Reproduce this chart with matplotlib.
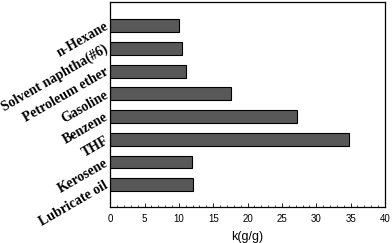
import matplotlib
matplotlib.use("Agg")
import matplotlib.pyplot as plt
from matplotlib.ticker import MultipleLocator

solvents = ["Lubricate oil", "Kerosene", "THF", "Benzene", "Gasoline",
            "Petroleum ether", "Solvent naphtha(#6)", "n-Hexane"]
k_values = [12.1, 11.9, 34.7, 27.15, 17.55, 11.05, 10.5, 10.0]

fig = plt.figure(figsize=(3.92, 2.43), dpi=100)
ax = fig.add_axes([0.281, 0.148, 0.701, 0.844])

ypos = list(range(len(solvents)))
ax.barh(ypos, k_values, height=0.57, color="#585858", edgecolor="black", linewidth=0.8)

ax.set_xlim(0, 40)
ax.set_ylim(-0.98, 8.04)
ax.xaxis.set_major_locator(MultipleLocator(5))
ax.xaxis.set_minor_locator(MultipleLocator(1))
ax.tick_params(axis="x", which="major", direction="in", length=3, width=0.6, labelsize=7, pad=5)
ax.tick_params(axis="x", which="minor", direction="in", length=1.5, width=0.5)
ax.tick_params(axis="y", length=0)
for lbl in ax.get_xticklabels():
    lbl.set_family("Liberation Sans")

ax.set_yticks(ypos)
ax.set_yticklabels(solvents, rotation=30, ha="right", va="center", rotation_mode="anchor",
                   family="Liberation Serif", fontweight="bold", fontsize=10)
ax.tick_params(axis="y", pad=2)

ax.set_xlabel("k(g/g)", fontsize=9, family="Liberation Sans", labelpad=5)

for sp in ax.spines.values():
    sp.set_linewidth(0.9)

fig.savefig("out.png", dpi=100)
